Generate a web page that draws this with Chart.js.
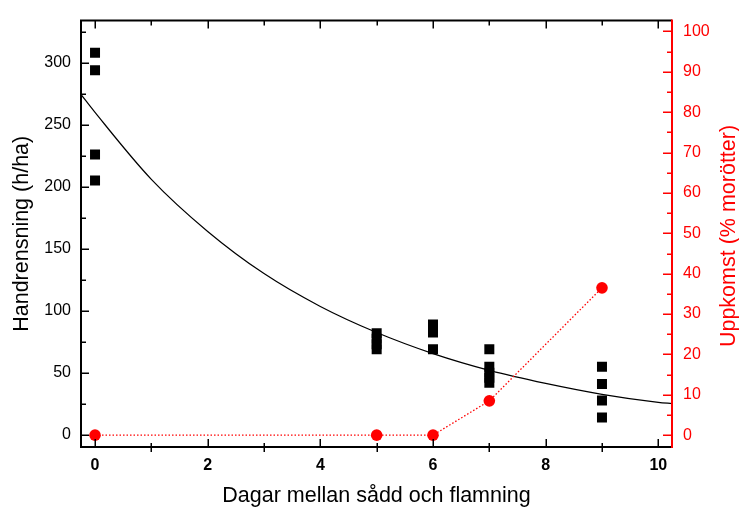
<!DOCTYPE html>
<html><head><meta charset="utf-8">
<script src="https://cdn.jsdelivr.net/npm/chart.js@4.4.0/dist/chart.umd.min.js"></script>
<style>html,body{margin:0;padding:0;background:#fff}canvas{display:block}</style>
</head><body>
<canvas id="c" width="739" height="509"></canvas>
<script>
// ---- data ----
const squareDays   = [0, 0, 0, 0, 5, 5, 5, 5, 6, 6, 6, 6, 7, 7, 7, 7, 7, 9, 9, 9, 9];
const handrensning = [308, 294, 226, 205, 82, 77.5, 73, 69, 89, 86, 82.5, 69, 69, 55, 50, 46, 42, 55, 41, 27.6, 14];
const curveDays    = [-0.25, 0, 1, 2, 3, 4, 5, 6, 7, 8, 9, 10, 10.25];
const curveValues  = [274.5, 260, 206, 164, 130, 103.5, 82.5, 65.5, 52, 41.5, 32.7, 26.2, 25.2];
const emergenceDays = [0, 5, 6, 7, 9];
const emergence     = [0, 0, 0, 8.5, 36.5];
const xTicks      = [0, 2, 4, 6, 8, 10];
const xMinorTicks = [1, 3, 5, 7, 9];
const leftTicks   = [0, 50, 100, 150, 200, 250, 300];
const leftMinor   = [25, 75, 125, 175, 225, 275, 325];
const rightTicks  = [0, 10, 20, 30, 40, 50, 60, 70, 80, 90, 100];
const rightMinor  = [5, 15, 25, 35, 45, 55, 65, 75, 85, 95];
const xTitle = 'Dagar mellan sådd och flamning';
const leftTitle = 'Handrensning (h/ha)';
const rightTitle = 'Uppkomst (% morötter)';

const FONT = "'Liberation Sans', Arial, sans-serif";
const RED = '#ff0000';
Chart.defaults.font.family = FONT;

const pts = (xs, ys) => xs.map((x, i) => ({x: x, y: ys[i]}));

const framePlugin = {
  id: 'frame',
  afterDraw(chart) {
    const {ctx, chartArea: a, scales} = chart;
    const sx = scales.x, sl = scales.y, sr = scales.y2;
    ctx.save();
    ctx.lineCap = 'butt';
    ctx.lineWidth = 1.5;
    ctx.strokeStyle = '#000';
    ctx.beginPath();
    xTicks.forEach(v => {
      const p = Math.round(sx.getPixelForValue(v)) + 0.25;
      ctx.moveTo(p, a.bottom); ctx.lineTo(p, a.bottom - 8);
      ctx.moveTo(p, a.top); ctx.lineTo(p, a.top + 8);
    });
    xMinorTicks.forEach(v => {
      const p = Math.round(sx.getPixelForValue(v)) + 0.25;
      ctx.moveTo(p, a.bottom + 5); ctx.lineTo(p, a.bottom - 4);
      ctx.moveTo(p, a.top); ctx.lineTo(p, a.top + 5);
    });
    leftTicks.forEach(v => {
      const p = Math.round(sl.getPixelForValue(v)) + 0.25;
      ctx.moveTo(a.left, p); ctx.lineTo(a.left + 8, p);
    });
    leftMinor.forEach(v => {
      const p = Math.round(sl.getPixelForValue(v)) + 0.25;
      ctx.moveTo(a.left, p); ctx.lineTo(a.left + 5, p);
    });
    ctx.stroke();
    // black frame
    ctx.lineWidth = 2;
    ctx.beginPath();
    ctx.moveTo(a.right, a.top); ctx.lineTo(a.left, a.top);
    ctx.lineTo(a.left, a.bottom); ctx.lineTo(a.right, a.bottom);
    ctx.stroke();
    // red right axis
    ctx.strokeStyle = RED;
    ctx.lineWidth = 1.5;
    ctx.beginPath();
    rightTicks.forEach(v => {
      const p = Math.round(sr.getPixelForValue(v)) + 0.25;
      ctx.moveTo(a.right, p); ctx.lineTo(a.right - 9, p);
    });
    rightMinor.forEach(v => {
      const p = Math.round(sr.getPixelForValue(v)) + 0.25;
      ctx.moveTo(a.right, p); ctx.lineTo(a.right - 5, p);
    });
    ctx.stroke();
    ctx.lineWidth = 2;
    ctx.beginPath();
    ctx.moveTo(a.right, a.top - 1); ctx.lineTo(a.right, a.bottom + 1);
    ctx.stroke();
    // right title (reads bottom to top)
    ctx.fillStyle = RED;
    ctx.font = "21.5px " + FONT;
    ctx.textAlign = 'center';
    ctx.textBaseline = 'middle';
    ctx.translate(729, 236);
    ctx.rotate(-Math.PI / 2);
    ctx.fillText(rightTitle, 0, 0);
    ctx.restore();
  }
};

new Chart(document.getElementById('c'), {
  type: 'scatter',
  data: {
    datasets: [
      {
        label: 'Handrensning',
        data: pts(squareDays, handrensning),
        yAxisID: 'y',
        pointStyle: 'rect',
        pointRadius: 7.07,
        pointBackgroundColor: '#000',
        pointBorderColor: '#000',
        pointBorderWidth: 0,
        showLine: false
      },
      {
        label: 'Uppkomst',
        data: pts(emergenceDays, emergence),
        yAxisID: 'y2',
        showLine: true,
        borderColor: RED,
        borderWidth: 1.3,
        borderDash: [1.5, 2],
        pointStyle: 'circle',
        pointRadius: 5.8,
        pointBackgroundColor: RED,
        pointBorderColor: RED,
        pointBorderWidth: 0
      },
      {
        label: 'Anpassning',
        data: pts(curveDays, curveValues),
        yAxisID: 'y',
        showLine: true,
        borderColor: '#000',
        borderWidth: 1.2,
        cubicInterpolationMode: 'monotone',
        pointRadius: 0
      }
    ]
  },
  options: {
    responsive: false,
    animation: false,
    devicePixelRatio: 1,
    layout: {padding: {top: 15, left: 0, right: 0, bottom: 0}},
    plugins: {legend: {display: false}, tooltip: {enabled: false}},
    scales: {
      x: {
        type: 'linear', position: 'bottom', min: -0.249, max: 10.243,
        grid: {display: false, drawTicks: false},
        border: {display: false},
        afterBuildTicks: s => { s.ticks = xTicks.map(v => ({value: v})); },
        afterFit: s => { s.height = 62; },
        ticks: {padding: 9, color: '#000', font: {size: 16, weight: 'bold'}},
        title: {display: true, text: xTitle, color: '#000',
                font: {size: 21.5, lineHeight: 1}, padding: {top: 0, bottom: 1.75}}
      },
      y: {
        type: 'linear', position: 'left', min: -9.8, max: 334,
        grid: {display: false, drawTicks: false},
        border: {display: false},
        afterBuildTicks: s => { s.ticks = leftTicks.map(v => ({value: v})); },
        afterFit: s => { s.width = 81; },
        ticks: {padding: 10, color: '#000', font: {size: 16}},
        title: {display: true, text: leftTitle, color: '#000',
                font: {size: 21.5, lineHeight: 1}, padding: {top: 11.25, bottom: 0}}
      },
      y2: {
        type: 'linear', position: 'right', min: -2.93, max: 102.7,
        grid: {display: false, drawTicks: false},
        border: {display: false},
        afterBuildTicks: s => { s.ticks = rightTicks.map(v => ({value: v})); },
        afterFit: s => { s.width = 67; },
        ticks: {padding: 11, color: RED, font: {size: 16}}
      }
    }
  },
  plugins: [framePlugin]
});
</script>
</body></html>
